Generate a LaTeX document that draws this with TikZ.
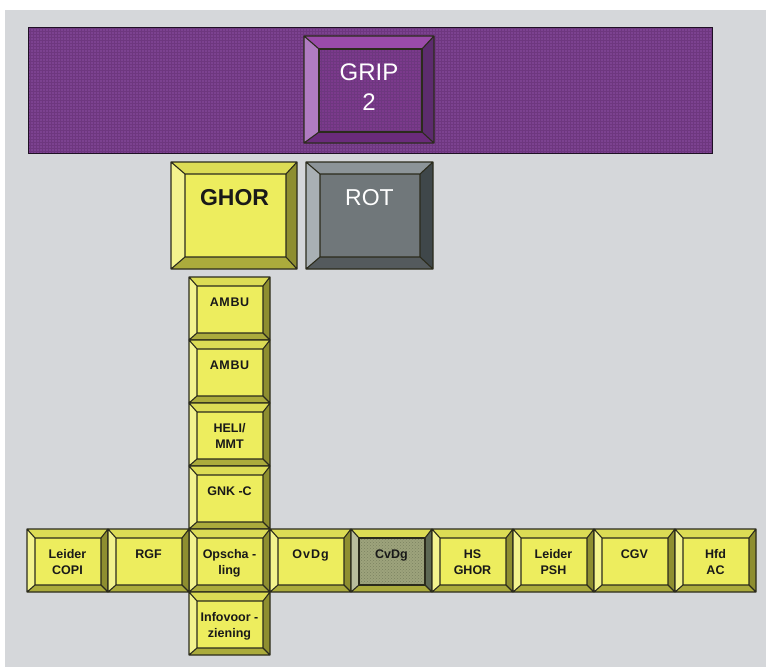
\documentclass[tikz,border=0pt]{standalone}
\usepackage{fontspec}
\setmainfont{Liberation Sans}
\usetikzlibrary{patterns}
\definecolor{bgray}{HTML}{D5D7DA}
\definecolor{edgec}{HTML}{2B2B1C}
\definecolor{yface}{HTML}{EDED5E}
\definecolor{ytop}{HTML}{DCDC55}
\definecolor{yleft}{HTML}{F3F38E}
\definecolor{yright}{HTML}{8E8E30}
\definecolor{ybot}{HTML}{ABAB3C}
\definecolor{pface}{HTML}{7B3A8C}
\definecolor{ptop}{HTML}{9A4BAA}
\definecolor{pleft}{HTML}{B07CC1}
\definecolor{pright}{HTML}{5C2C6E}
\definecolor{pbot}{HTML}{6A2B7B}
\definecolor{bannerc}{HTML}{7C4290}
\definecolor{bannergrid}{HTML}{6E377F}
\definecolor{gface}{HTML}{70777A}
\definecolor{gtop}{HTML}{8C9498}
\definecolor{gleft}{HTML}{A9B0B4}
\definecolor{gright}{HTML}{3F474A}
\definecolor{gbot}{HTML}{545A5D}
\definecolor{cface}{HTML}{9DA37C}
\definecolor{ctop}{HTML}{DCDC55}
\definecolor{cleft}{HTML}{B9BD9C}
\definecolor{cright}{HTML}{5D6854}
\definecolor{cbot}{HTML}{ABAB3C}
\definecolor{cdots}{HTML}{7C8360}
\newcommand\usescheme[1]{%
  \colorlet{kface}{#1face}\colorlet{ktop}{#1top}\colorlet{kleft}{#1left}%
  \colorlet{kright}{#1right}\colorlet{kbot}{#1bot}}
% #1 name, #2 x1, #3 y1, #4 x2, #5 y2, #6 left, #7 top, #8 right, #9 bottom bevel
\newcommand\keybtn[9]{%
  \pgfmathsetmacro\ixa{#2+#6}\pgfmathsetmacro\iya{#3+#7}%
  \pgfmathsetmacro\ixb{#4-#8}\pgfmathsetmacro\iyb{#5-#9}%
  \fill[ktop] (#2,#3) -- (#4,#3) -- (\ixb,\iya) -- (\ixa,\iya) -- cycle;
  \fill[kright] (#4,#3) -- (#4,#5) -- (\ixb,\iyb) -- (\ixb,\iya) -- cycle;
  \fill[kbot] (#4,#5) -- (#2,#5) -- (\ixa,\iyb) -- (\ixb,\iyb) -- cycle;
  \fill[kleft] (#2,#5) -- (#2,#3) -- (\ixa,\iya) -- (\ixa,\iyb) -- cycle;
  \fill[kface] (\ixa,\iya) rectangle (\ixb,\iyb);
  \draw[edge] (#2,#3) rectangle (#4,#5) (\ixa,\iya) rectangle (\ixb,\iyb)
    (#2,#3) -- (\ixa,\iya) (#4,#3) -- (\ixb,\iya)
    (#4,#5) -- (\ixb,\iyb) (#2,#5) -- (\ixa,\iyb);
  \coordinate (#1) at ({(#2+#4)/2},{(#3+#5)/2});
}
% small button shape: #1 name, #2 x left, #3 y top
\newcommand\smallkey[3]{\keybtn{#1}{#2}{#3}{#2+81}{#3+63}{8}{9}{7}{7}}
% small button with text: #1 name, #2 x left, #3 y top, #4 text
\newcommand\smallbtn[4]{%
  \smallkey{#1}{#2}{#3}%
  \node[stext] (#1-t) at ({#2+40.5},{#3+20.7}) {#4};
}
\begin{document}
\begin{tikzpicture}[x=1pt,y=-1pt,
  edge/.style={draw=edgec,line width=1.1pt,line join=round},
  stext/.style={anchor=north,align=center,inner sep=0pt,text=black!90,
    font=\bfseries\fontsize{12.5}{16}\selectfont},
  btext/.style={anchor=north,align=center,inner sep=0pt}]
\useasboundingbox (0,0) rectangle (766,667);
\fill[white] (0,0) rectangle (766,667);
\fill[bgray] (5,10) rectangle (766,667);
% banner
\fill[bannerc] (28,27) rectangle (712,153);
\fill[pattern=grid,pattern color=bannergrid] (28,27) rectangle (712,153);
\coordinate (banner) at (370,90);
\draw[draw=black!75!bannerc,line width=1pt] (28,27) rectangle (712,153);
% GRIP 2
\usescheme{p}
\keybtn{grip}{304}{36}{434}{143}{15}{13}{12}{11}
\fill[pattern=grid,pattern color=bannergrid] (\ixa,\iya) rectangle (\ixb,\iyb);
\draw[edge] (\ixa,\iya) rectangle (\ixb,\iyb);
\node[btext,text=white,font=\fontsize{24}{30}\selectfont] (grip-t) at (369,63.4) {GRIP\\2};
% GHOR and ROT
\usescheme{y}
\keybtn{ghor}{171}{162}{297}{269}{14}{12}{11}{12}
\node[btext,text=black!90,font=\bfseries\fontsize{23}{28}\selectfont] (ghor-t) at (234.5,188.8) {GHOR};
\usescheme{g}
\keybtn{rot}{306}{162}{433}{269}{14}{12}{13}{12}
\node[btext,text=white,font=\fontsize{23}{28}\selectfont] (rot-t) at (369.5,188.8) {ROT};
% column
\usescheme{y}
\smallbtn{ambua}{189}{277}{\addfontfeature{LetterSpace=5}AMBU}
\smallbtn{ambub}{189}{340}{\addfontfeature{LetterSpace=5}AMBU}
\smallbtn{heli}{189}{403}{HELI/\\MMT}
\smallbtn{gnk}{189}{466}{GNK -C}
\smallbtn{opsch}{189}{529}{Opscha -\\ling}
\smallbtn{info}{189}{592}{Infovoor -\\ziening}
% bottom row
\smallbtn{copi}{27}{529}{Leider\\COPI}
\smallbtn{rgf}{108}{529}{RGF}
\smallbtn{ovdg}{270}{529}{\addfontfeature{LetterSpace=8}OvDg}
\usescheme{c}
\smallkey{cvdg}{351}{529}
\fill[pattern=crosshatch dots,pattern color=cdots] (\ixa,\iya) rectangle (\ixb,\iyb);
\draw[edge] (\ixa,\iya) rectangle (\ixb,\iyb);
\node[stext] (cvdg-t) at (391.5,549.7) {CvDg};
\usescheme{y}
\smallbtn{hsghor}{432}{529}{HS\\GHOR}
\smallbtn{psh}{513}{529}{Leider\\PSH}
\smallbtn{cgv}{594}{529}{CGV}
\smallbtn{hfd}{675}{529}{Hfd\\AC}
\end{tikzpicture}
\end{document}
